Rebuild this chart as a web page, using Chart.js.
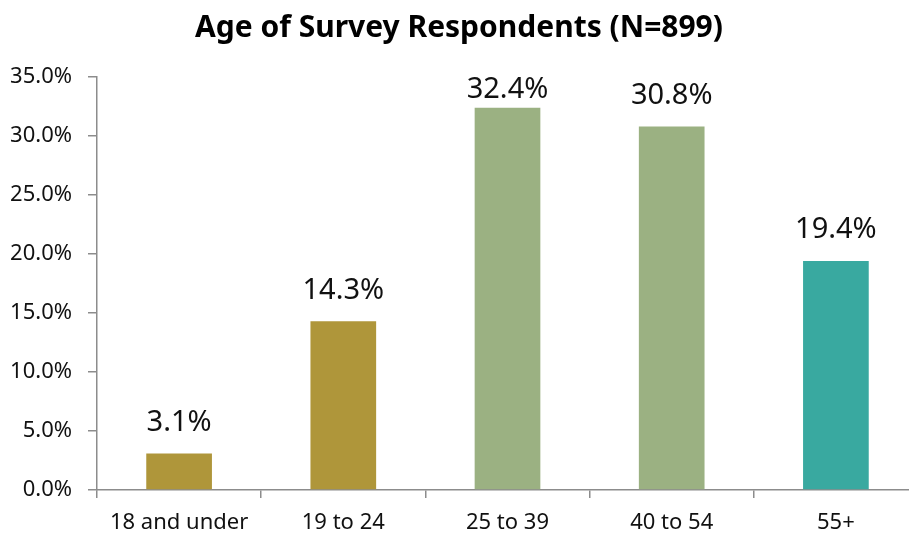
<!DOCTYPE html>
<html>
<head>
<meta charset="utf-8">
<script src="https://cdn.jsdelivr.net/npm/chart.js@4"></script>
<style>
  html, body { margin: 0; padding: 0; background: #fff; overflow: hidden; }
  #wrap { width: 930px; height: 537px; }
</style>
</head>
<body>
<div id="wrap"><canvas id="ages" width="930" height="537"></canvas></div>
<script>
const ageGroups = ["18 and under", "19 to 24", "25 to 39", "40 to 54", "55+"];
const shares = [3.1, 14.3, 32.4, 30.8, 19.4];
const barColors = ["#AF963A", "#AF963A", "#9BB182", "#9BB182", "#39A9A0"];

const font = "'Noto Sans', 'DejaVu Sans', sans-serif";
const axisGray = "#8c8c8c";

// value labels above each bar
const barLabels = {
  id: "barLabels",
  afterDatasetsDraw(chart) {
    const { ctx, chartArea } = chart;
    const meta = chart.getDatasetMeta(0);
    ctx.save();
    ctx.font = "29px " + font;
    ctx.fillStyle = "#111";
    ctx.textAlign = "center";
    ctx.textBaseline = "middle";
    meta.data.forEach((bar, i) => {
      let y = bar.y - 31;
      if (y < chartArea.top + 13) y = chartArea.top + 13;
      ctx.fillText(shares[i].toFixed(1) + "%", bar.x, y);
    });
    ctx.restore();
  },
};

new Chart(document.getElementById("ages"), {
  type: "bar",
  data: {
    labels: ageGroups,
    datasets: [
      {
        data: shares,
        backgroundColor: barColors,
        borderWidth: 0,
        barPercentage: 0.4,
        categoryPercentage: 1,
      },
    ],
  },
  options: {
    responsive: false,
    animation: false,
    devicePixelRatio: 1,
    layout: { padding: { left: 0, right: 12, top: 0, bottom: 0 } },
    plugins: {
      legend: { display: false },
      tooltip: { enabled: false },
      title: {
        display: true,
        text: "Age of Survey Respondents (N=899)",
        color: "#000",
        font: { family: font, size: 30, weight: "bold", lineHeight: 1.2 },
        padding: { top: 10, bottom: 31 },
      },
    },
    scales: {
      x: {
        grid: {
          offset: true,
          drawOnChartArea: false,
          tickLength: 8,
          color: axisGray,
          lineWidth: 1.5,
        },
        border: { color: axisGray, width: 1.5 },
        ticks: {
          color: "#111",
          font: { family: font, size: 22 },
          padding: 12,
          maxRotation: 0,
        },
        afterFit(scale) {
          scale.height = 47;
        },
      },
      y: {
        min: 0,
        max: 35,
        grid: {
          drawOnChartArea: false,
          tickLength: 9,
          color: axisGray,
          lineWidth: 1.5,
        },
        border: { color: axisGray, width: 1.5 },
        ticks: {
          stepSize: 5,
          color: "#111",
          font: { family: font, size: 22 },
          padding: 16,
          callback: (v) => v.toFixed(1) + "%",
        },
        afterFit(scale) {
          scale.width = 97;
        },
      },
    },
  },
  plugins: [barLabels],
});
</script>
</body>
</html>
